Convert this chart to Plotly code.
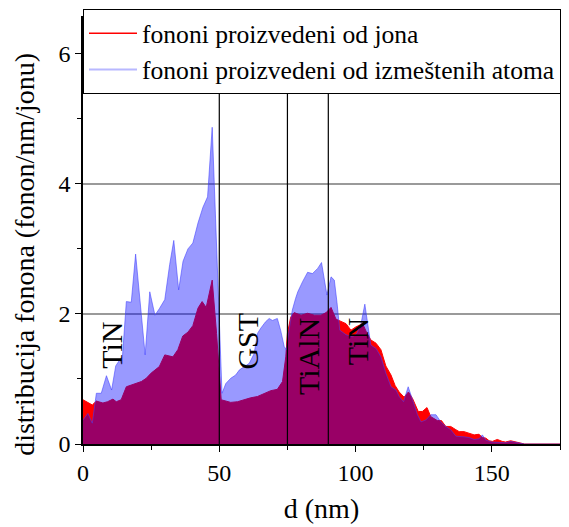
import plotly.graph_objects as go

# --- data ---
d_ion = [0, 1.5, 3.4, 4.9, 7.3, 9, 11, 12.2, 14, 15.9, 18.9, 21.4, 23.2, 25, 28, 30,
         33, 34.8, 36.6, 38.5, 40.3, 42.2, 43.7, 45.2, 47.4, 49, 50.7,
         54.2, 56.7, 59, 61.5, 64, 66.4, 68.9, 71.3, 73.2, 74.4, 75, 76.2, 77.5,
         80, 82.4, 84.9, 87.3, 89.2, 91, 92.8, 94.6, 96.5, 98.3, 100.1, 102.6,
         104, 105.6, 107.5, 109.3, 111.1, 113, 114.5, 116, 117.8, 119.4, 120.9,
         123, 124.5, 126.2, 127.6, 130, 131.5, 133.1, 134.9, 136.8, 138, 139.8,
         141.6, 143.5, 145.3, 146.5, 147.8, 149, 150.2, 152, 153.8, 155, 156.9,
         158.1, 160, 162, 175]
v_ion = [0.68, 0.65, 0.6, 0.66, 0.63, 0.65, 0.69, 0.65, 0.68, 0.88, 0.93, 0.96, 1.01, 1.09, 1.19, 1.37,
         1.34, 1.45, 1.66, 1.72, 1.82, 2.09, 2.19, 2.1, 2.52, 1.7, 0.68,
         0.64, 0.65, 0.68, 0.71, 0.73, 0.78, 0.82, 0.84, 0.96, 1.34, 1.7, 1.95, 2.02,
         1.98, 2.01, 1.98, 1.98, 2.02, 2.1, 1.92, 1.88, 1.85, 1.75, 1.8, 1.85,
         1.72, 1.6, 1.55, 1.45, 1.2, 1.06, 0.9, 0.8, 0.72, 0.8, 0.7,
         0.5, 0.5, 0.56, 0.42, 0.36, 0.36, 0.27, 0.27, 0.22, 0.19, 0.19,
         0.16, 0.14, 0.15, 0.1, 0.09, 0.05, 0.04, 0.07, 0.04, 0.03, 0.05,
         0.04, 0.02, 0.0, 0.0]

d_recoil = [0, 1.8, 3.4, 4.9, 6.7, 8.6, 10.5, 12, 13.4, 14.3, 15.9, 17.7, 19.3, 21.1, 22.8,
            24.5, 26.4, 28, 30, 31.8, 33.3, 35.1, 36.7, 38.5, 40.3, 42.2, 44, 45.7, 47.4, 51,
            52.4, 54.2, 56, 57.4, 59.1, 61, 62.8, 64, 65.2, 67, 68.3, 69.5, 71.3, 72.5,
            73.8, 74.6, 75.6, 76.8, 78, 78.8, 80.6, 82.4, 84.2, 86.1, 87.5, 88.5, 89.5,
            91, 92.2, 93.2, 94.2, 96.5, 98.9, 100.5, 102, 103.4, 104.4, 105.6, 107.5,
            109.3, 111.1, 113, 114.8, 116, 117.6, 119.3, 120.9, 122.7, 124, 125.8, 127.6,
            129.5, 131.3, 133.1, 134.9, 136.8, 139.8, 141.6, 143.5, 145.3, 146.5, 147.8,
            150, 152, 155, 157, 160, 162, 175]
v_recoil = [0.37, 0.47, 0.32, 0.78, 0.78, 1.05, 0.83, 1.2, 1.29, 1.24, 2.19, 2.18, 2.92, 2.15, 1.37,
            2.34, 1.98, 2.08, 2.22, 2.76, 3.13, 2.37, 2.81, 3.0, 3.09, 3.4, 3.64, 3.8, 4.87, 0.78,
            0.93, 1.01, 1.06, 1.14, 1.19, 1.24, 1.39, 1.7, 1.78, 1.88, 1.93, 1.9, 1.93, 1.75,
            1.5, 1.45, 1.75, 2.06, 2.24, 2.34, 2.5, 2.64, 2.62, 2.7, 2.79, 2.57, 2.29,
            2.57, 2.52, 2.17, 1.75, 1.68, 1.65, 1.7, 1.85, 2.15, 1.83, 1.52, 1.47,
            1.34, 1.09, 0.88, 0.83, 0.73, 0.65, 0.88, 0.68, 0.45, 0.34, 0.37, 0.45,
            0.45, 0.34, 0.27, 0.22, 0.12, 0.11, 0.1, 0.07, 0.08, 0.14, 0.06,
            0.03, 0.03, 0.02, 0.04, 0.01, 0.0, 0.0]

series_names = ["fononi proizvedeni od jona", "fononi proizvedeni od izmeštenih atoma"]
interfaces = [50, 75, 90]
layer_names = ["TiN", "GST", "TiAlN", "TiN"]
layer_x = [10.5, 60.3, 83, 101]
layer_y = [1.52, 1.58, 1.34, 1.57]
x_ticks = [0, 50, 100, 150]
y_ticks = [0, 2, 4, 6]

FONT = "Liberation Serif"
RED = "#ff0000"
BLUE_FILL = "rgba(0,0,255,0.4)"
BLUE_LINE = "rgba(60,60,255,0.55)"

fig = go.Figure()
fig.add_trace(go.Scatter(x=d_ion, y=v_ion, mode="lines", fill="tozeroy",
                         fillcolor=RED, line=dict(color=RED, width=1),
                         showlegend=False, hoverinfo="skip"))
fig.add_trace(go.Scatter(x=d_recoil, y=v_recoil, mode="lines", fill="tozeroy",
                         fillcolor=BLUE_FILL, line=dict(color=BLUE_LINE, width=1),
                         showlegend=False, hoverinfo="skip"))
# legend entries (line samples only)
fig.add_trace(go.Scatter(x=[None], y=[None], mode="lines", name=series_names[0],
                         line=dict(color=RED, width=1.5)))
fig.add_trace(go.Scatter(x=[None], y=[None], mode="lines", name=series_names[1],
                         line=dict(color="#b8b8ff", width=2)))

for xi in interfaces:
    fig.add_shape(type="line", xref="x", yref="paper", x0=xi, x1=xi, y0=0, y1=1,
                  line=dict(color="black", width=1.2), layer="above")

for name, lx, ly in zip(layer_names, layer_x, layer_y):
    fig.add_annotation(x=lx, y=ly, xref="x", yref="y", text=name, textangle=-90,
                       showarrow=False, font=dict(family=FONT, size=30, color="black"))

fig.add_annotation(x=-0.124, y=0.446, xref="paper", yref="paper",
                   text="distribucija fonona (fonon/nm/jonu)", textangle=-90,
                   showarrow=False, xanchor="center", yanchor="middle",
                   font=dict(family=FONT, size=28, color="black"))

# the page body adds an 8 px offset, so the figure is 8 px smaller with 8 px less margin
fig.update_layout(
    width=561, height=519,
    margin=dict(l=75, r=9, t=10, b=83, autoexpand=False),
    paper_bgcolor="white", plot_bgcolor="white",
    font=dict(family=FONT, size=24, color="black"),
    legend=dict(x=0, y=0.998, xref="paper", yref="container",
                xanchor="left", yanchor="top",
                bgcolor="white", bordercolor="black", borderwidth=1,
                font=dict(family=FONT, size=25.6), itemwidth=48,
                tracegroupgap=0),
    xaxis=dict(range=[0, 175], tickvals=x_ticks, ticks="outside", ticklen=6,
               tickwidth=1.2, tickcolor="black", showline=True, linecolor="black",
               linewidth=1.5, mirror=True, showgrid=False, zeroline=False,
               layer="below traces",
               minor=dict(tickvals=[25, 75, 125, 175], ticks="outside", ticklen=4,
                          tickcolor="black", showgrid=False),
               title=dict(text="d (nm)", font=dict(family=FONT, size=28), standoff=14),
               tickfont=dict(family=FONT, size=24)),
    yaxis=dict(range=[0, 6.55], tickvals=y_ticks, ticks="outside", ticklen=6,
               tickwidth=1.2, tickcolor="black", showline=True, linecolor="black",
               linewidth=1.5, mirror=True, showgrid=True, gridcolor="#9a9a9a",
               gridwidth=1.5, zeroline=False,
               minor=dict(tickvals=[1, 3, 5], ticks="outside", ticklen=4,
                          tickcolor="black", showgrid=False),
               tickfont=dict(family=FONT, size=24)),
)

fig.write_html("out.html")
